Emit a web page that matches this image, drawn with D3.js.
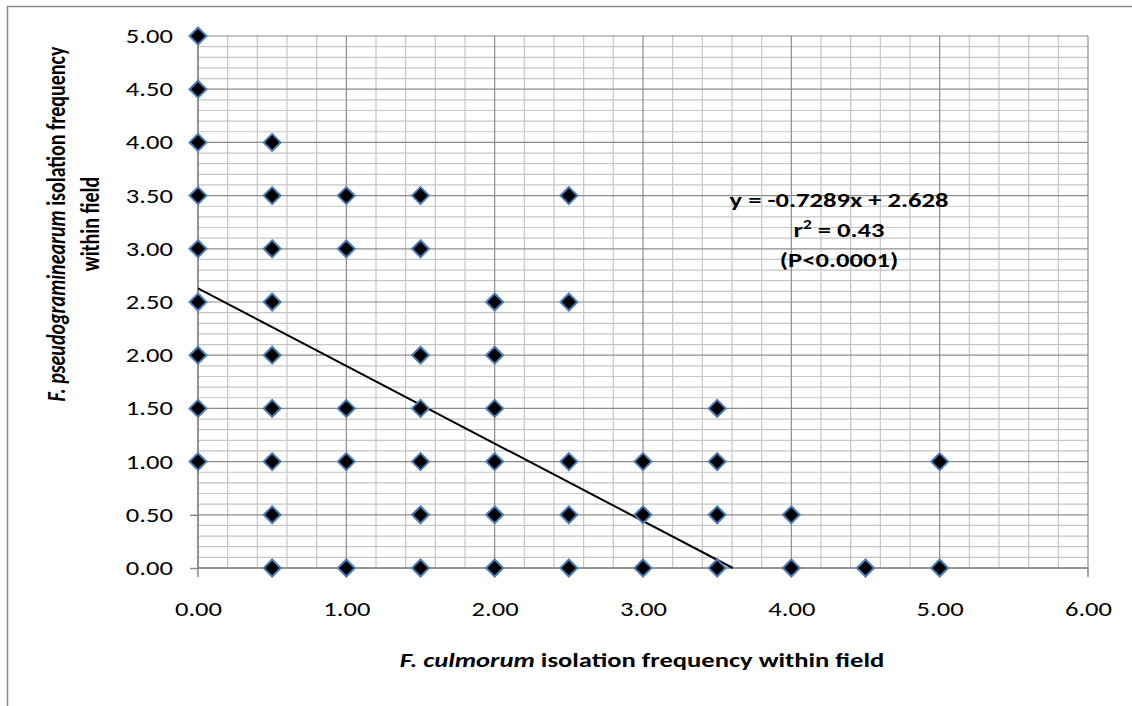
<!DOCTYPE html>
<html>
<head>
<meta charset="utf-8">
<script src="https://cdn.jsdelivr.net/npm/d3@7"></script>
<style>
  html, body { margin: 0; padding: 0; background: #fff; }
  svg { display: block; }
  text { font-family: Carlito, Calibri, Lato, "Open Sans", sans-serif; fill: #000; }
</style>
</head>
<body>
<svg id="chart" width="1132" height="706"></svg>
<script>
// F. culmorum (x) vs F. pseudograminearum (y) isolation frequency per field
const culmorum = [
  0, 0, 0, 0, 0, 0, 0, 0, 0,
  0.5, 0.5, 0.5, 0.5, 0.5, 0.5, 0.5, 0.5, 0.5,
  1, 1, 1, 1, 1,
  1.5, 1.5, 1.5, 1.5, 1.5, 1.5, 1.5,
  2, 2, 2, 2, 2, 2,
  2.5, 2.5, 2.5, 2.5, 2.5,
  3, 3, 3,
  3.5, 3.5, 3.5, 3.5,
  4, 4,
  4.5,
  5, 5
];
const pseudograminearum = [
  5, 4.5, 4, 3.5, 3, 2.5, 2, 1.5, 1,
  4, 3.5, 3, 2.5, 2, 1.5, 1, 0.5, 0,
  3.5, 3, 1.5, 1, 0,
  3.5, 3, 2, 1.5, 1, 0.5, 0,
  2.5, 2, 1.5, 1, 0.5, 0,
  3.5, 2.5, 1, 0.5, 0,
  1, 0.5, 0,
  1.5, 1, 0.5, 0,
  0.5, 0,
  0,
  1, 0
];

// Linear fit reported on the chart
const fitSlope = -0.7289;
const fitIntercept = 2.628;
const fitLabels = ["y = -0.7289x + 2.628", "r² = 0.43", "(P<0.0001)"];

const xTickValues = [0, 1, 2, 3, 4, 5, 6];
const yTickValues = [0, 0.5, 1, 1.5, 2, 2.5, 3, 3.5, 4, 4.5, 5];
const xMinorValues = [0.2,0.4,0.6,0.8,1.2,1.4,1.6,1.8,2.2,2.4,2.6,2.8,3.2,3.4,3.6,3.8,4.2,4.4,4.6,4.8,5.2,5.4,5.6,5.8];
const yMinorValues = [0.1,0.2,0.3,0.4,0.6,0.7,0.8,0.9,1.1,1.2,1.3,1.4,1.6,1.7,1.8,1.9,2.1,2.2,2.3,2.4,2.6,2.7,2.8,2.9,3.1,3.2,3.3,3.4,3.6,3.7,3.8,3.9,4.1,4.2,4.3,4.4,4.6,4.7,4.8,4.9];

const W = 1132, H = 706;
const plot = { left: 198, right: 1088, top: 36, bottom: 568 };
const SX = 1.33;   // horizontal stretch applied to all text
const FS = 20;     // base font size

const svg = d3.select("#chart");

// chart frame
svg.append("rect")
  .attr("x", 7.5).attr("y", 6.5)
  .attr("width", W + 10).attr("height", H + 10)
  .attr("fill", "#fff").attr("stroke", "#8a8a8a").attr("stroke-width", 1.5);

const x = d3.scaleLinear().domain([0, 6]).range([plot.left, plot.right]);
const y = d3.scaleLinear().domain([0, 5]).range([plot.bottom, plot.top]);

const grid = svg.append("g");
// minor gridlines
grid.selectAll(".vmin").data(xMinorValues).join("line")
  .attr("x1", d => x(d)).attr("x2", d => x(d))
  .attr("y1", plot.top).attr("y2", plot.bottom)
  .attr("stroke", "#c6c6c6").attr("stroke-width", 1.2);
grid.selectAll(".hmin").data(yMinorValues).join("line")
  .attr("x1", plot.left).attr("x2", plot.right)
  .attr("y1", d => y(d)).attr("y2", d => y(d))
  .attr("stroke", "#c6c6c6").attr("stroke-width", 1.2);
// major gridlines
grid.selectAll(".vmaj").data(xTickValues).join("line")
  .attr("x1", d => x(d)).attr("x2", d => x(d))
  .attr("y1", plot.top).attr("y2", plot.bottom)
  .attr("stroke", "#8c8c8c").attr("stroke-width", 1.2);
grid.selectAll(".hmaj").data(yTickValues).join("line")
  .attr("x1", plot.left).attr("x2", plot.right)
  .attr("y1", d => y(d)).attr("y2", d => y(d))
  .attr("stroke", "#8c8c8c").attr("stroke-width", 1.2);

// y axis with outside ticks
const yAxis = svg.append("g")
  .attr("transform", `translate(${plot.left},0)`)
  .call(d3.axisLeft(y).tickValues(yTickValues).tickFormat(d3.format(".2f")).tickSize(8).tickPadding(0));
yAxis.select(".domain").attr("stroke", "#868686").attr("stroke-width", 1.5)
  .attr("d", `M0,${plot.top}V${plot.bottom + 9}`);
yAxis.selectAll(".tick line").attr("stroke", "#868686").attr("stroke-width", 1.5);
yAxis.selectAll(".tick text")
  .attr("x", null).attr("dy", null).attr("text-anchor", "end")
  .attr("font-size", FS).attr("font-family", null)
  .attr("transform", `translate(-25,6.5) scale(${SX},1)`);

// x axis
const xAxis = svg.append("g")
  .attr("transform", `translate(0,${plot.bottom})`)
  .call(d3.axisBottom(x).tickValues(xTickValues).tickFormat(d3.format(".2f")).tickSize(0).tickPadding(0));
xAxis.select(".domain").attr("stroke", "#868686").attr("stroke-width", 1.5)
  .attr("d", `M${plot.left},0H${plot.right}V9`);
xAxis.selectAll(".tick line").remove();
xAxis.selectAll(".tick text")
  .attr("y", null).attr("dy", null).attr("text-anchor", "middle")
  .attr("font-size", FS).attr("font-family", null)
  .attr("transform", `translate(0,48) scale(${SX},1)`);

// fitted line, from x = 0 to where it meets y = 0
const xEnd = -fitIntercept / fitSlope;
svg.append("line")
  .attr("x1", x(0)).attr("y1", y(fitIntercept))
  .attr("x2", x(xEnd)).attr("y2", y(0))
  .attr("stroke", "#000").attr("stroke-width", 2);

// diamond markers
const pts = culmorum.map((c, i) => ({ c, p: pseudograminearum[i] }));
const r = 8.5;
svg.append("g").selectAll("path").data(pts).join("path")
  .attr("d", d => {
    const cx = x(d.c), cy = y(d.p);
    return `M${cx},${cy - r}L${cx + r},${cy}L${cx},${cy + r}L${cx - r},${cy}Z`;
  })
  .attr("fill", "#000").attr("stroke", "#4a7ebb").attr("stroke-width", 2);

// regression annotation
const ann = svg.append("g");
fitLabels.forEach((t, i) => {
  const tx = ann.append("text")
    .attr("transform", `translate(839,${207 + i * 30}) scale(${SX},1)`)
    .attr("text-anchor", "middle").attr("font-size", FS).attr("font-weight", "bold");
  if (t.startsWith("r²")) {
    tx.append("tspan").text("r");
    tx.append("tspan").text("2").attr("font-size", 13).attr("dy", -8);
    tx.append("tspan").text(" = 0.43").attr("dy", 8);
  } else {
    tx.text(t);
  }
});

// x axis title
const xt = svg.append("text")
  .attr("transform", `translate(642,667) scale(${SX},1)`)
  .attr("text-anchor", "middle").attr("font-size", FS).attr("font-weight", "bold");
xt.append("tspan").text("F. culmorum").attr("font-style", "italic");
xt.append("tspan").text(" isolation frequency within field");

// y axis title (two lines, rotated)
const yt1 = svg.append("text")
  .attr("transform", `translate(65,224) scale(${SX},1) rotate(-90)`)
  .attr("text-anchor", "middle").attr("font-size", FS).attr("font-weight", "bold");
yt1.append("tspan").text("F. pseudograminearum").attr("font-style", "italic");
yt1.append("tspan").text(" isolation frequency");
svg.append("text")
  .attr("transform", `translate(99,224) scale(${SX},1) rotate(-90)`)
  .attr("text-anchor", "middle").attr("font-size", FS).attr("font-weight", "bold")
  .text("within field");
</script>
</body>
</html>
